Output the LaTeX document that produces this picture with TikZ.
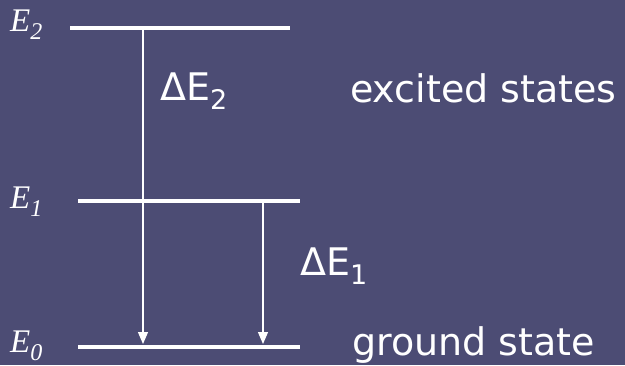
\documentclass[tikz,border=0pt]{standalone}
\usepackage{fontspec}
\setsansfont{DejaVu Sans}
\newfontfamily\levfont{Liberation Serif}
\usetikzlibrary{arrows.meta,positioning}
\definecolor{slate}{RGB}{76,76,116}
\newcommand{\lowsub}[1]{\raisebox{-9pt}{\fontsize{27}{27}\selectfont #1}}
\newcommand{\levsub}[1]{\raisebox{-8pt}{\fontsize{24}{24}\selectfont #1}}

\begin{document}
\begin{tikzpicture}[x=1pt,y=-1pt,
  level/.style={white, line width=4pt},
  decay/.style={white, line width=1.3pt, shorten >=1pt, -{Triangle[length=12pt,width=10pt]}},
  elabel/.style={white, font=\levfont\itshape\fontsize{33}{33}\selectfont, anchor=base west, inner sep=0pt},
  txt/.style={white, font=\sffamily\fontsize{38}{38}\selectfont, anchor=base west, inner sep=0pt}]
  % background
  \fill[slate] (0,0) rectangle (625,365);

  % energy levels
  \coordinate (L2a) at (70,28);  \coordinate (L2b) at (290,28);
  \coordinate (L1a) at (78,201); \coordinate (L1b) at (300,201);
  \coordinate (L0a) at (78,347); \coordinate (L0b) at (300,347);
  \draw[level] (L2a) -- (L2b);
  \draw[level] (L1a) -- (L1b);
  \draw[level] (L0a) -- (L0b);

  % level labels
  \node[elabel] (e2) at (10,31)  {E\levsub{2}};
  \node[elabel] (e1) at (10,208) {E\levsub{1}};
  \node[elabel] (e0) at (10,352) {E\levsub{0}};

  % transitions
  \coordinate (T2top) at (143,30);  \coordinate (T2bot) at (143,345);
  \coordinate (T1top) at (263,203); \coordinate (T1bot) at (263,345);
  \draw[decay] (T2top) -- (T2bot);
  \draw[decay] (T1top) -- (T1bot);

  % energy differences
  \node[txt] (dE2) at (160,100) {ΔE\lowsub{2}};
  \node[txt] (dE1) at (300,275) {ΔE\lowsub{1}};

  % state names
  \node[txt] (exc) at (350,102) {excited states};
  \node[txt] (gnd) at (352,355) {ground state};
\end{tikzpicture}
\end{document}
